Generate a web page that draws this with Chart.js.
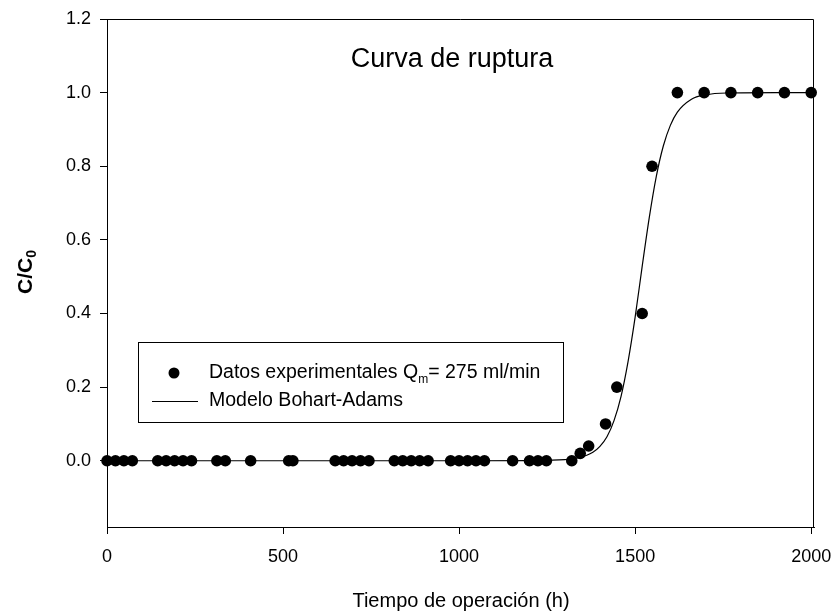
<!DOCTYPE html>
<html>
<head>
<meta charset="utf-8">
<script src="https://cdn.jsdelivr.net/npm/chart.js@4"></script>
<style>
  html, body { margin: 0; padding: 0; background: #fff; }
  #wrap { width: 834px; height: 615px; position: relative; }
</style>
</head>
<body>
<div id="wrap"><canvas id="c"></canvas></div>
<script>
// ---- data ----
const expX = [0, 24, 48, 72, 144, 168, 192, 216, 240, 312, 336, 408, 516, 528,
  648, 672, 696, 720, 744, 816, 840, 864, 888, 912, 976, 1000, 1024, 1048, 1072,
  1152, 1200, 1224, 1248, 1320, 1344, 1368, 1416, 1448, 1520, 1548,
  1620, 1696, 1772, 1848, 1924, 2000];
const expY = [0, 0, 0, 0, 0, 0, 0, 0, 0, 0, 0, 0, 0, 0,
  0, 0, 0, 0, 0, 0, 0, 0, 0, 0, 0, 0, 0, 0, 0,
  0, 0, 0, 0, 0, 0.02, 0.04, 0.10, 0.20, 0.40, 0.80,
  1.0, 1.0, 1.0, 1.0, 1.0, 1.0];

const modelX = [0, 1000, 1200, 1300, 1340, 1380, 1400, 1420, 1440, 1460, 1480, 1500,
  1520, 1540, 1560, 1580, 1600, 1620, 1660, 1700, 1760, 1900, 2000];
const modelY = [0, 0, 0.0005, 0.003, 0.008, 0.023, 0.039, 0.065, 0.109, 0.175, 0.27, 0.39,
  0.528, 0.66, 0.772, 0.855, 0.911, 0.947, 0.982, 0.994, 0.999, 1.0, 1.0];

const xTicks = [0, 500, 1000, 1500, 2000];
const yTicks = [0.0, 0.2, 0.4, 0.6, 0.8, 1.0, 1.2];

const titleText = 'Curva de ruptura';
const xTitle = 'Tiempo de operación (h)';
const legendPts = ['Datos experimentales Q', 'm', '= 275 ml/min'];
const legendLine = 'Modelo Bohart-Adams';

const FONT = "'Liberation Sans', Arial, Helvetica, sans-serif";

const decor = {
  id: 'decor',
  afterDraw(chart) {
    const ctx = chart.ctx;
    const a = chart.chartArea;
    ctx.save();
    // frame top/right
    ctx.strokeStyle = '#000';
    ctx.lineWidth = 1;
    ctx.beginPath();
    ctx.moveTo(a.left, a.top + 0.5);
    ctx.lineTo(a.right - 0.5, a.top + 0.5);
    ctx.lineTo(a.right - 0.5, a.bottom);
    ctx.stroke();

    // title inside plot
    ctx.fillStyle = '#000';
    ctx.font = '27px ' + FONT;
    ctx.textAlign = 'center';
    ctx.textBaseline = 'middle';
    ctx.fillText(titleText, 452, 60);

    // x axis title
    ctx.font = '20px ' + FONT;
    ctx.fillText(xTitle, 461, 601);

    // y axis title C/C0 bold, rotated
    ctx.save();
    ctx.translate(26, 272);
    ctx.rotate(-Math.PI / 2);
    ctx.font = 'bold 21px ' + FONT;
    ctx.textAlign = 'left';
    const w1 = ctx.measureText('C/C').width;
    ctx.font = 'bold 14px ' + FONT;
    const w2 = ctx.measureText('0').width;
    const x0 = -(w1 + w2) / 2;
    ctx.font = 'bold 21px ' + FONT;
    ctx.fillText('C/C', x0, 0);
    ctx.font = 'bold 14px ' + FONT;
    ctx.fillText('0', x0 + w1, 6);
    ctx.restore();

    // legend box
    ctx.lineWidth = 1;
    ctx.strokeStyle = '#000';
    ctx.strokeRect(138.5, 342.5, 425, 80);
    // marker
    ctx.beginPath();
    ctx.arc(174, 373, 5.5, 0, Math.PI * 2);
    ctx.fill();
    // line sample
    ctx.lineWidth = 1.2;
    ctx.beginPath();
    ctx.moveTo(152, 401.5);
    ctx.lineTo(198, 401.5);
    ctx.stroke();
    // texts
    ctx.textAlign = 'left';
    ctx.textBaseline = 'middle';
    ctx.font = '19.5px ' + FONT;
    let tx = 209;
    ctx.fillText(legendPts[0], tx, 373);
    tx += ctx.measureText(legendPts[0]).width;
    ctx.font = '12px ' + FONT;
    ctx.fillText(legendPts[1], tx, 380);
    tx += ctx.measureText(legendPts[1]).width;
    ctx.font = '19.5px ' + FONT;
    ctx.fillText(legendPts[2], tx, 373);
    ctx.fillText(legendLine, 209, 401);
    ctx.restore();
  }
};

new Chart(document.getElementById('c'), {
  type: 'scatter',
  data: {
    datasets: [
      {
        label: legendLine,
        data: modelX.map((x, i) => ({ x: x, y: modelY[i] })),
        showLine: true,
        borderColor: '#000',
        borderWidth: 1.2,
        pointRadius: 0,
        cubicInterpolationMode: 'monotone',
        clip: false,
        order: 2
      },
      {
        label: legendPts.join(''),
        data: expX.map((x, i) => ({ x: x, y: expY[i] })),
        showLine: false,
        backgroundColor: '#000',
        borderColor: '#000',
        borderWidth: 0,
        pointRadius: 5.8,
        clip: false,
        order: 1
      }
    ]
  },
  options: {
    responsive: true,
    maintainAspectRatio: false,
    animation: false,
    events: [],
    layout: { padding: { top: 19, right: 20, left: 0, bottom: 0 } },
    plugins: { legend: { display: false }, tooltip: { enabled: false }, title: { display: false } },
    scales: {
      x: {
        type: 'linear',
        min: 0,
        max: 2008,
        afterBuildTicks(s) { s.ticks = xTicks.map(v => ({ value: v })); },
        afterFit(s) { s.height = 88; s.paddingLeft = 0; s.paddingRight = 0; },
        grid: { drawOnChartArea: false, drawTicks: true, tickLength: 7, color: '#000', lineWidth: 1 },
        border: { display: true, color: '#000', width: 1 },
        ticks: {
          color: '#000', padding: 12, maxRotation: 0, autoSkip: false,
          font: { family: FONT, size: 18 },
          callback: v => String(v)
        }
      },
      y: {
        type: 'linear',
        min: -0.18,
        max: 1.2,
        afterBuildTicks(s) { s.ticks = yTicks.map(v => ({ value: v })); },
        afterFit(s) { s.width = 107; s.paddingTop = 0; s.paddingBottom = 0; },
        grid: { drawOnChartArea: false, drawTicks: true, tickLength: 7, color: '#000', lineWidth: 1 },
        border: { display: true, color: '#000', width: 1 },
        ticks: {
          color: '#000', padding: 9, autoSkip: false,
          font: { family: FONT, size: 18 },
          callback: v => Number(v).toFixed(1)
        }
      }
    }
  },
  plugins: [decor]
});
</script>
</body>
</html>
